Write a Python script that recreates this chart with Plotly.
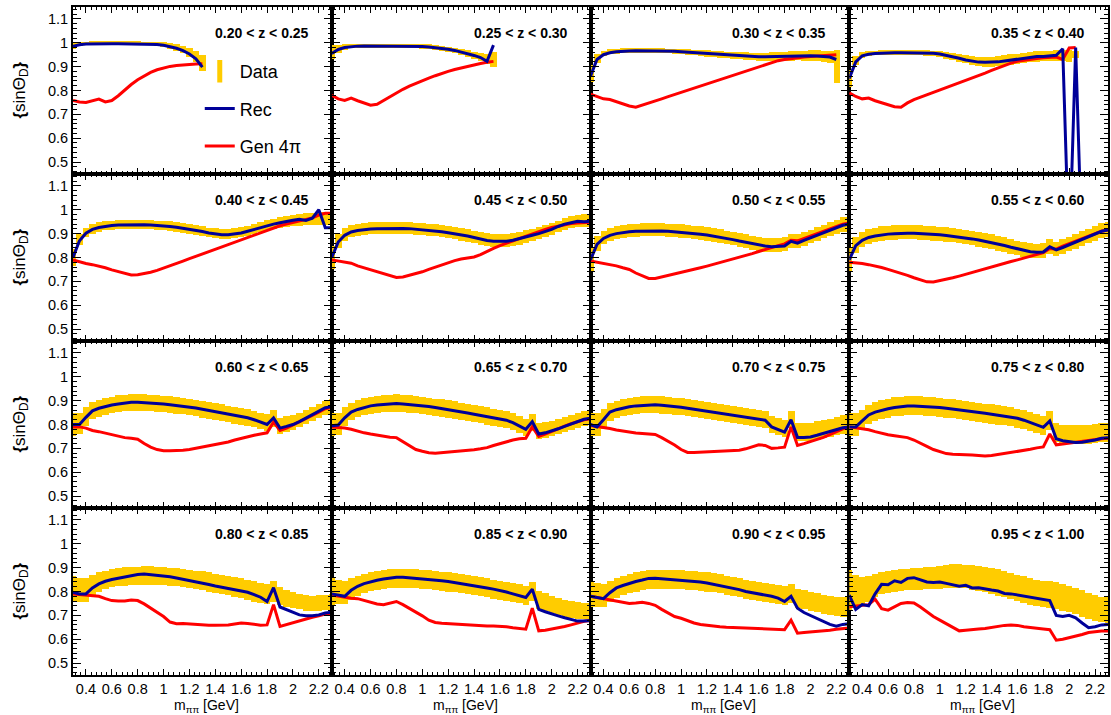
import plotly.graph_objects as go
from plotly.subplots import make_subplots

# Bin centres in m_pipi [GeV]
MASS = [0.30, 0.35, 0.40, 0.45, 0.50, 0.55, 0.60, 0.65, 0.70, 0.75,
        0.80, 0.85, 0.90, 0.95, 1.00, 1.05, 1.10, 1.15, 1.20, 1.25,
        1.30, 1.35, 1.40, 1.45, 1.50, 1.55, 1.60, 1.65, 1.70, 1.75,
        1.80, 1.85, 1.90, 1.95, 2.00, 2.05, 2.10, 2.15, 2.20, 2.25, 2.30]
BIN_WIDTH = 0.05

Z_LABELS = ["0.20 < z < 0.25", "0.25 < z < 0.30", "0.30 < z < 0.35", "0.35 < z < 0.40",
            "0.40 < z < 0.45", "0.45 < z < 0.50", "0.50 < z < 0.55", "0.55 < z < 0.60",
            "0.60 < z < 0.65", "0.65 < z < 0.70", "0.70 < z < 0.75", "0.75 < z < 0.80",
            "0.80 < z < 0.85", "0.85 < z < 0.90", "0.90 < z < 0.95", "0.95 < z < 1.00"]

X_TICKS = [0.4, 0.6, 0.8, 1.0, 1.2, 1.4, 1.6, 1.8, 2.0, 2.2]
X_TICK_TEXT = ["0.4", "0.6", "0.8", "1", "1.2", "1.4", "1.6", "1.8", "2", "2.2"]
Y_TICKS = [0.5, 0.6, 0.7, 0.8, 0.9, 1.0, 1.1]
Y_TICK_TEXT = ["0.5", "0.6", "0.7", "0.8", "0.9", "1", "1.1"]

# ---- 0.20 < z < 0.25 ----
data_z20 = [0.99, 0.995, 0.997, 0.998, 0.998, 0.998, 0.998, 0.998, 0.998, 0.998, 0.998, 0.997, 0.997, 0.996, 0.993, 0.988, 0.98, 0.972, 0.96, 0.943, 0.915]
err_z20 = [0.014, 0.01, 0.008, 0.008, 0.008, 0.008, 0.008, 0.008, 0.008, 0.008, 0.008, 0.008, 0.008, 0.009, 0.01, 0.012, 0.014, 0.016, 0.018, 0.022, 0.035]
rec_z20 = [0.985, 0.992, 0.995, 0.996, 0.996, 0.996, 0.996, 0.996, 0.996, 0.996, 0.996, 0.996, 0.995, 0.993, 0.99, 0.985, 0.977, 0.967, 0.953, 0.933, 0.898]
gen_z20 = [0.758, 0.752, 0.75, 0.756, 0.764, 0.752, 0.758, 0.778, 0.802, 0.825, 0.845, 0.862, 0.876, 0.887, 0.895, 0.901, 0.905, 0.908, 0.91, 0.911, 0.912]

# ---- 0.25 < z < 0.30 ----
data_z25 = [0.96, 0.975, 0.982, 0.986, 0.988, 0.988, 0.988, 0.988, 0.988, 0.988, 0.988, 0.988, 0.987, 0.986, 0.985, 0.983, 0.98, 0.977, 0.973, 0.968, 0.962, 0.955, 0.948, 0.94, 0.932, 0.93]
err_z25 = [0.03, 0.016, 0.011, 0.009, 0.008, 0.008, 0.008, 0.008, 0.008, 0.008, 0.008, 0.008, 0.008, 0.009, 0.009, 0.01, 0.01, 0.011, 0.011, 0.012, 0.013, 0.014, 0.015, 0.017, 0.02, 0.03]
rec_z25 = [0.955, 0.972, 0.98, 0.984, 0.986, 0.987, 0.987, 0.987, 0.987, 0.987, 0.987, 0.987, 0.986, 0.985, 0.984, 0.982, 0.98, 0.977, 0.973, 0.968, 0.962, 0.955, 0.947, 0.938, 0.922, 0.99]
gen_z25 = [0.78, 0.765, 0.758, 0.768, 0.757, 0.748, 0.738, 0.742, 0.758, 0.775, 0.79, 0.805, 0.818, 0.83, 0.842, 0.852, 0.862, 0.872, 0.88, 0.888, 0.895, 0.902, 0.908, 0.913, 0.918, 0.922]

# ---- 0.30 < z < 0.35 ----
data_z30 = [0.87, 0.935, 0.955, 0.962, 0.965, 0.967, 0.968, 0.968, 0.968, 0.968, 0.968, 0.967, 0.966, 0.965, 0.963, 0.961, 0.959, 0.957, 0.955, 0.953, 0.951, 0.949, 0.947, 0.945, 0.944, 0.943, 0.942, 0.942, 0.942, 0.943, 0.944, 0.945, 0.946, 0.946, 0.946, 0.945, 0.943, 0.94, 0.9]
err_z30 = [0.035, 0.02, 0.012, 0.01, 0.01, 0.01, 0.01, 0.01, 0.01, 0.01, 0.01, 0.01, 0.01, 0.01, 0.011, 0.011, 0.012, 0.012, 0.013, 0.013, 0.014, 0.014, 0.015, 0.015, 0.016, 0.016, 0.017, 0.017, 0.018, 0.018, 0.019, 0.02, 0.02, 0.021, 0.022, 0.023, 0.024, 0.026, 0.07]
rec_z30 = [0.86, 0.93, 0.95, 0.958, 0.962, 0.965, 0.966, 0.967, 0.967, 0.967, 0.967, 0.966, 0.965, 0.964, 0.962, 0.96, 0.958, 0.956, 0.954, 0.952, 0.95, 0.948, 0.946, 0.944, 0.943, 0.942, 0.941, 0.941, 0.942, 0.943, 0.944, 0.945, 0.945, 0.946, 0.946, 0.945, 0.943, 0.94, 0.93]
gen_z30 = [0.785, 0.775, 0.765, 0.762, 0.752, 0.745, 0.735, 0.73, 0.738, 0.747, 0.756, 0.765, 0.774, 0.783, 0.792, 0.802, 0.811, 0.82, 0.829, 0.838, 0.847, 0.856, 0.865, 0.874, 0.883, 0.892, 0.901, 0.91, 0.918, 0.925, 0.93, 0.934, 0.937, 0.94, 0.942, 0.944, 0.946, 0.948, 0.95]

# ---- 0.35 < z < 0.40 ----
data_z35 = [0.85, 0.925, 0.948, 0.955, 0.957, 0.958, 0.958, 0.958, 0.958, 0.958, 0.958, 0.958, 0.957, 0.955, 0.952, 0.948, 0.943, 0.937, 0.931, 0.926, 0.922, 0.92, 0.92, 0.922, 0.925, 0.929, 0.933, 0.937, 0.94, 0.942, 0.944, 0.945, 0.946, 0.947, 0.945, 0.95]
err_z35 = [0.035, 0.02, 0.012, 0.01, 0.01, 0.01, 0.01, 0.01, 0.01, 0.01, 0.01, 0.011, 0.011, 0.012, 0.013, 0.014, 0.015, 0.016, 0.017, 0.018, 0.019, 0.02, 0.021, 0.021, 0.022, 0.022, 0.022, 0.022, 0.022, 0.022, 0.022, 0.022, 0.022, 0.022, 0.025, 0.015]
rec_z35 = [0.85, 0.92, 0.945, 0.952, 0.955, 0.957, 0.958, 0.958, 0.958, 0.958, 0.958, 0.958, 0.957, 0.956, 0.953, 0.948, 0.942, 0.935, 0.928, 0.922, 0.919, 0.918, 0.918, 0.92, 0.924, 0.928, 0.933, 0.937, 0.94, 0.942, 0.943, 0.944, 0.948, 0.975, 0.1, 0.98, 0.1]
gen_z35 = [0.79, 0.775, 0.765, 0.768, 0.757, 0.748, 0.74, 0.732, 0.73, 0.748, 0.762, 0.772, 0.78, 0.79, 0.80, 0.81, 0.82, 0.831, 0.842, 0.852, 0.863, 0.873, 0.884, 0.895, 0.905, 0.915, 0.922, 0.927, 0.931, 0.934, 0.937, 0.939, 0.94, 0.93, 0.978, 0.98]

# ---- 0.40 < z < 0.45 ----
data_z40 = [0.8, 0.875, 0.905, 0.92, 0.928, 0.933, 0.936, 0.938, 0.939, 0.94, 0.94, 0.939, 0.938, 0.936, 0.934, 0.931, 0.928, 0.924, 0.92, 0.915, 0.91, 0.905, 0.901, 0.899, 0.899, 0.902, 0.907, 0.913, 0.92, 0.927, 0.934, 0.94, 0.946, 0.951, 0.955, 0.958, 0.96, 0.962, 0.963, 0.963, 0.962]
err_z40 = [0.035, 0.022, 0.02, 0.02, 0.019, 0.019, 0.019, 0.019, 0.019, 0.019, 0.019, 0.019, 0.019, 0.019, 0.02, 0.02, 0.02, 0.02, 0.02, 0.02, 0.02, 0.02, 0.021, 0.021, 0.021, 0.021, 0.021, 0.021, 0.021, 0.022, 0.022, 0.022, 0.022, 0.022, 0.024, 0.024, 0.025, 0.025, 0.026, 0.026, 0.026]
rec_z40 = [0.8, 0.87, 0.902, 0.918, 0.926, 0.931, 0.934, 0.936, 0.937, 0.938, 0.938, 0.937, 0.936, 0.935, 0.933, 0.93, 0.927, 0.923, 0.919, 0.914, 0.909, 0.903, 0.898, 0.895, 0.895, 0.898, 0.903, 0.91, 0.918, 0.926, 0.933, 0.94, 0.946, 0.952, 0.956, 0.96, 0.955, 0.965, 1.0, 0.925, 0.925]
gen_z40 = [0.79, 0.782, 0.775, 0.77, 0.765, 0.757, 0.748, 0.74, 0.733, 0.727, 0.728, 0.732, 0.738, 0.746, 0.755, 0.765, 0.775, 0.785, 0.795, 0.805, 0.815, 0.825, 0.835, 0.845, 0.855, 0.865, 0.875, 0.885, 0.895, 0.905, 0.915, 0.925, 0.933, 0.94, 0.947, 0.953, 0.958, 0.966, 0.978, 0.985, 0.985]

# ---- 0.45 < z < 0.50 ----
data_z45 = [0.8, 0.868, 0.896, 0.91, 0.916, 0.92, 0.922, 0.923, 0.924, 0.925, 0.925, 0.924, 0.923, 0.921, 0.919, 0.917, 0.914, 0.91, 0.906, 0.902, 0.897, 0.892, 0.886, 0.88, 0.874, 0.871, 0.87, 0.871, 0.875, 0.881, 0.888, 0.895, 0.902, 0.91, 0.92, 0.93, 0.94, 0.947, 0.953, 0.955, 0.955]
err_z45 = [0.05, 0.03, 0.026, 0.025, 0.025, 0.025, 0.025, 0.025, 0.025, 0.025, 0.025, 0.025, 0.025, 0.025, 0.025, 0.025, 0.025, 0.026, 0.026, 0.026, 0.026, 0.026, 0.027, 0.027, 0.027, 0.027, 0.027, 0.027, 0.027, 0.027, 0.026, 0.026, 0.026, 0.026, 0.025, 0.025, 0.025, 0.025, 0.025, 0.026, 0.026]
rec_z45 = [0.8, 0.865, 0.893, 0.907, 0.913, 0.917, 0.919, 0.921, 0.922, 0.923, 0.923, 0.922, 0.921, 0.919, 0.917, 0.915, 0.912, 0.908, 0.904, 0.9, 0.895, 0.89, 0.884, 0.877, 0.871, 0.868, 0.867, 0.868, 0.872, 0.878, 0.886, 0.893, 0.9, 0.908, 0.918, 0.93, 0.94, 0.946, 0.952, 0.95, 0.952]
gen_z45 = [0.79, 0.785, 0.778, 0.776, 0.765, 0.757, 0.748, 0.74, 0.732, 0.722, 0.716, 0.718, 0.725, 0.732, 0.74, 0.75, 0.76, 0.769, 0.778, 0.787, 0.794, 0.797, 0.802, 0.812, 0.826, 0.838, 0.85, 0.86, 0.871, 0.88, 0.89, 0.9, 0.909, 0.918, 0.926, 0.932, 0.938, 0.942, 0.945, 0.947, 0.948]

# ---- 0.50 < z < 0.55 ----
data_z50 = [0.795, 0.858, 0.885, 0.898, 0.905, 0.91, 0.913, 0.915, 0.916, 0.917, 0.917, 0.916, 0.915, 0.913, 0.911, 0.908, 0.905, 0.902, 0.899, 0.895, 0.89, 0.885, 0.88, 0.874, 0.868, 0.862, 0.857, 0.853, 0.851, 0.851, 0.855, 0.87, 0.868, 0.878, 0.888, 0.898, 0.909, 0.919, 0.929, 0.938, 0.943]
err_z50 = [0.05, 0.032, 0.028, 0.027, 0.027, 0.027, 0.027, 0.027, 0.027, 0.027, 0.027, 0.027, 0.027, 0.027, 0.028, 0.028, 0.028, 0.028, 0.028, 0.028, 0.028, 0.028, 0.029, 0.029, 0.029, 0.029, 0.029, 0.029, 0.029, 0.029, 0.029, 0.029, 0.029, 0.029, 0.029, 0.029, 0.029, 0.029, 0.029, 0.03, 0.03]
rec_z50 = [0.79, 0.855, 0.88, 0.893, 0.9, 0.905, 0.908, 0.91, 0.911, 0.912, 0.912, 0.911, 0.91, 0.908, 0.906, 0.903, 0.9, 0.897, 0.894, 0.89, 0.885, 0.88, 0.875, 0.869, 0.863, 0.857, 0.852, 0.848, 0.845, 0.845, 0.848, 0.868, 0.86, 0.872, 0.882, 0.893, 0.905, 0.915, 0.925, 0.935, 0.94]
gen_z50 = [0.785, 0.78, 0.775, 0.772, 0.765, 0.757, 0.75, 0.735, 0.722, 0.712, 0.712, 0.718, 0.724, 0.73, 0.737, 0.744, 0.75, 0.757, 0.764, 0.771, 0.778, 0.785, 0.792, 0.8, 0.808, 0.816, 0.825, 0.834, 0.842, 0.85, 0.857, 0.872, 0.87, 0.88, 0.89, 0.9, 0.91, 0.92, 0.93, 0.94, 0.945]

# ---- 0.55 < z < 0.60 ----
data_z55 = [0.795, 0.852, 0.876, 0.888, 0.895, 0.9, 0.903, 0.905, 0.906, 0.906, 0.906, 0.905, 0.903, 0.901, 0.899, 0.896, 0.893, 0.89, 0.886, 0.882, 0.877, 0.872, 0.866, 0.86, 0.854, 0.847, 0.84, 0.834, 0.829, 0.827, 0.828, 0.845, 0.836, 0.846, 0.857, 0.868, 0.879, 0.89, 0.902, 0.912, 0.918]
err_z55 = [0.05, 0.034, 0.03, 0.03, 0.03, 0.03, 0.03, 0.03, 0.03, 0.03, 0.03, 0.03, 0.03, 0.03, 0.03, 0.03, 0.03, 0.03, 0.03, 0.03, 0.031, 0.031, 0.031, 0.031, 0.031, 0.031, 0.031, 0.031, 0.031, 0.031, 0.031, 0.031, 0.031, 0.031, 0.031, 0.031, 0.031, 0.031, 0.031, 0.031, 0.031]
rec_z55 = [0.79, 0.85, 0.872, 0.884, 0.89, 0.895, 0.898, 0.9, 0.902, 0.902, 0.902, 0.901, 0.899, 0.897, 0.895, 0.892, 0.889, 0.886, 0.882, 0.878, 0.873, 0.868, 0.862, 0.856, 0.85, 0.843, 0.836, 0.829, 0.824, 0.822, 0.823, 0.845, 0.832, 0.842, 0.853, 0.864, 0.876, 0.888, 0.9, 0.91, 0.915]
gen_z55 = [0.78, 0.778, 0.775, 0.77, 0.765, 0.758, 0.75, 0.742, 0.735, 0.725, 0.715, 0.705, 0.698, 0.697, 0.702, 0.708, 0.715, 0.722, 0.73, 0.737, 0.745, 0.753, 0.76, 0.768, 0.776, 0.783, 0.79, 0.798, 0.806, 0.813, 0.82, 0.838, 0.835, 0.848, 0.858, 0.868, 0.878, 0.888, 0.898, 0.91, 0.915]

# ---- 0.60 < z < 0.65 ----
data_z60 = [0.8, 0.805, 0.835, 0.858, 0.868, 0.876, 0.882, 0.887, 0.89, 0.892, 0.893, 0.892, 0.89, 0.888, 0.886, 0.883, 0.88, 0.877, 0.873, 0.869, 0.864, 0.859, 0.854, 0.849, 0.844, 0.839, 0.835, 0.83, 0.823, 0.815, 0.807, 0.825, 0.795, 0.802, 0.81, 0.82, 0.832, 0.845, 0.858, 0.87, 0.876]
err_z60 = [0.05, 0.045, 0.04, 0.037, 0.036, 0.036, 0.035, 0.035, 0.035, 0.035, 0.035, 0.035, 0.035, 0.035, 0.035, 0.035, 0.035, 0.035, 0.035, 0.035, 0.035, 0.035, 0.035, 0.035, 0.035, 0.035, 0.035, 0.035, 0.035, 0.035, 0.035, 0.035, 0.033, 0.032, 0.031, 0.03, 0.03, 0.03, 0.03, 0.03, 0.03]
rec_z60 = [0.8, 0.8, 0.83, 0.857, 0.868, 0.876, 0.882, 0.886, 0.89, 0.893, 0.893, 0.892, 0.89, 0.888, 0.886, 0.883, 0.88, 0.877, 0.874, 0.869, 0.864, 0.859, 0.854, 0.848, 0.843, 0.838, 0.834, 0.828, 0.82, 0.81, 0.8, 0.828, 0.785, 0.792, 0.8, 0.812, 0.826, 0.84, 0.855, 0.87, 0.875]
gen_z60 = [0.79, 0.79, 0.785, 0.775, 0.77, 0.764, 0.757, 0.75, 0.745, 0.742, 0.738, 0.72, 0.705, 0.695, 0.69, 0.69, 0.69, 0.692, 0.695, 0.7, 0.705, 0.71, 0.715, 0.72, 0.727, 0.735, 0.742, 0.75, 0.755, 0.76, 0.765, 0.81, 0.775, 0.785, 0.798, 0.81, 0.823, 0.837, 0.852, 0.866, 0.872]

# ---- 0.65 < z < 0.70 ----
data_z65 = [0.8, 0.803, 0.832, 0.855, 0.866, 0.874, 0.88, 0.884, 0.887, 0.889, 0.89, 0.888, 0.886, 0.883, 0.88, 0.877, 0.873, 0.869, 0.865, 0.861, 0.856, 0.851, 0.846, 0.841, 0.836, 0.831, 0.826, 0.821, 0.812, 0.8, 0.788, 0.81, 0.772, 0.776, 0.782, 0.79, 0.799, 0.808, 0.817, 0.825, 0.83]
err_z65 = [0.05, 0.045, 0.04, 0.037, 0.036, 0.036, 0.036, 0.036, 0.036, 0.036, 0.036, 0.036, 0.036, 0.036, 0.036, 0.036, 0.036, 0.036, 0.036, 0.036, 0.036, 0.036, 0.036, 0.036, 0.036, 0.036, 0.036, 0.036, 0.036, 0.036, 0.036, 0.036, 0.034, 0.033, 0.032, 0.031, 0.031, 0.031, 0.031, 0.031, 0.031]
rec_z65 = [0.795, 0.798, 0.828, 0.852, 0.863, 0.872, 0.878, 0.882, 0.885, 0.887, 0.888, 0.886, 0.884, 0.881, 0.878, 0.875, 0.871, 0.867, 0.863, 0.858, 0.853, 0.848, 0.843, 0.838, 0.833, 0.828, 0.823, 0.818, 0.808, 0.795, 0.78, 0.812, 0.76, 0.765, 0.772, 0.782, 0.792, 0.802, 0.812, 0.822, 0.826]
gen_z65 = [0.79, 0.788, 0.785, 0.78, 0.772, 0.765, 0.76, 0.755, 0.75, 0.747, 0.745, 0.728, 0.71, 0.695, 0.688, 0.682, 0.68, 0.682, 0.685, 0.687, 0.689, 0.691, 0.694, 0.698, 0.703, 0.712, 0.72, 0.728, 0.735, 0.74, 0.742, 0.79, 0.75, 0.76, 0.772, 0.783, 0.793, 0.803, 0.812, 0.82, 0.824]

# ---- 0.70 < z < 0.75 ----
data_z70 = [0.8, 0.8, 0.825, 0.852, 0.864, 0.872, 0.877, 0.881, 0.883, 0.884, 0.884, 0.882, 0.88, 0.877, 0.874, 0.87, 0.866, 0.862, 0.858, 0.854, 0.85, 0.846, 0.842, 0.838, 0.834, 0.83, 0.826, 0.82, 0.8, 0.79, 0.783, 0.82, 0.767, 0.768, 0.77, 0.775, 0.781, 0.787, 0.793, 0.8, 0.803]
err_z70 = [0.05, 0.048, 0.042, 0.037, 0.036, 0.036, 0.036, 0.036, 0.036, 0.036, 0.036, 0.036, 0.036, 0.036, 0.036, 0.036, 0.036, 0.036, 0.036, 0.036, 0.036, 0.036, 0.036, 0.036, 0.036, 0.036, 0.036, 0.036, 0.036, 0.036, 0.036, 0.036, 0.038, 0.038, 0.038, 0.038, 0.038, 0.038, 0.038, 0.038, 0.038]
rec_z70 = [0.8, 0.79, 0.82, 0.852, 0.862, 0.869, 0.874, 0.878, 0.88, 0.882, 0.883, 0.881, 0.879, 0.876, 0.872, 0.868, 0.864, 0.86, 0.856, 0.852, 0.847, 0.843, 0.839, 0.835, 0.831, 0.827, 0.824, 0.818, 0.79, 0.778, 0.768, 0.82, 0.746, 0.746, 0.748, 0.755, 0.763, 0.77, 0.778, 0.786, 0.79]
gen_z70 = [0.796, 0.792, 0.79, 0.783, 0.777, 0.772, 0.768, 0.764, 0.762, 0.761, 0.758, 0.745, 0.73, 0.714, 0.695, 0.683, 0.683, 0.684, 0.685, 0.686, 0.687, 0.688, 0.689, 0.692, 0.698, 0.707, 0.715, 0.712, 0.7, 0.702, 0.705, 0.79, 0.712, 0.72, 0.728, 0.736, 0.746, 0.758, 0.77, 0.782, 0.787]

# ---- 0.75 < z < 0.80 ----
data_z75 = [0.8, 0.8, 0.82, 0.842, 0.855, 0.863, 0.869, 0.874, 0.877, 0.879, 0.879, 0.878, 0.876, 0.874, 0.872, 0.869, 0.866, 0.863, 0.859, 0.855, 0.851, 0.848, 0.844, 0.84, 0.836, 0.832, 0.827, 0.82, 0.812, 0.803, 0.795, 0.815, 0.765, 0.76, 0.758, 0.757, 0.758, 0.76, 0.763, 0.766, 0.768]
err_z75 = [0.05, 0.048, 0.042, 0.04, 0.04, 0.04, 0.04, 0.04, 0.04, 0.04, 0.04, 0.04, 0.04, 0.04, 0.04, 0.04, 0.04, 0.04, 0.04, 0.04, 0.04, 0.04, 0.04, 0.04, 0.04, 0.04, 0.04, 0.04, 0.04, 0.04, 0.04, 0.04, 0.04, 0.04, 0.04, 0.04, 0.04, 0.04, 0.04, 0.04, 0.04]
rec_z75 = [0.79, 0.79, 0.815, 0.84, 0.852, 0.86, 0.866, 0.871, 0.875, 0.878, 0.878, 0.877, 0.875, 0.873, 0.871, 0.868, 0.865, 0.862, 0.858, 0.854, 0.85, 0.847, 0.843, 0.839, 0.835, 0.831, 0.826, 0.818, 0.808, 0.797, 0.788, 0.815, 0.74, 0.732, 0.728, 0.725, 0.726, 0.73, 0.735, 0.742, 0.745]
gen_z75 = [0.79, 0.787, 0.783, 0.778, 0.77, 0.763, 0.757, 0.753, 0.75, 0.745, 0.735, 0.72, 0.708, 0.695, 0.685, 0.678, 0.675, 0.675, 0.674, 0.672, 0.67, 0.668, 0.67, 0.674, 0.678, 0.683, 0.686, 0.69, 0.696, 0.702, 0.706, 0.76, 0.715, 0.718, 0.722, 0.725, 0.728, 0.732, 0.736, 0.74, 0.742]

# ---- 0.80 < z < 0.85 ----
data_z80 = [0.81, 0.806, 0.805, 0.825, 0.84, 0.85, 0.856, 0.86, 0.863, 0.865, 0.866, 0.867, 0.867, 0.866, 0.864, 0.862, 0.86, 0.857, 0.853, 0.849, 0.845, 0.84, 0.835, 0.83, 0.825, 0.82, 0.815, 0.808, 0.8, 0.795, 0.79, 0.8, 0.78, 0.772, 0.765, 0.758, 0.752, 0.75, 0.752, 0.755, 0.756]
err_z80 = [0.055, 0.05, 0.05, 0.045, 0.04, 0.038, 0.037, 0.037, 0.038, 0.038, 0.038, 0.038, 0.038, 0.038, 0.038, 0.038, 0.038, 0.038, 0.039, 0.039, 0.04, 0.04, 0.04, 0.04, 0.04, 0.041, 0.041, 0.042, 0.042, 0.042, 0.042, 0.042, 0.038, 0.036, 0.034, 0.033, 0.032, 0.032, 0.032, 0.032, 0.032]
rec_z80 = [0.797, 0.79, 0.79, 0.815, 0.832, 0.843, 0.85, 0.856, 0.861, 0.867, 0.871, 0.873, 0.871, 0.869, 0.866, 0.862, 0.857, 0.852, 0.847, 0.841, 0.835, 0.829, 0.823, 0.818, 0.813, 0.808, 0.803, 0.797, 0.787, 0.776, 0.758, 0.816, 0.735, 0.725, 0.712, 0.702, 0.698, 0.698, 0.702, 0.71, 0.713]
gen_z80 = [0.79, 0.788, 0.786, 0.783, 0.78, 0.77, 0.762, 0.76, 0.76, 0.764, 0.762, 0.748, 0.73, 0.712, 0.695, 0.672, 0.665, 0.666, 0.664, 0.66, 0.659, 0.659, 0.659, 0.659, 0.66, 0.664, 0.668, 0.666, 0.662, 0.659, 0.66, 0.745, 0.654, 0.662, 0.67, 0.678, 0.685, 0.692, 0.698, 0.705, 0.708]

# ---- 0.85 < z < 0.90 ----
data_z85 = [0.8, 0.797, 0.795, 0.81, 0.825, 0.835, 0.842, 0.847, 0.851, 0.854, 0.856, 0.856, 0.855, 0.853, 0.851, 0.849, 0.846, 0.843, 0.84, 0.836, 0.832, 0.828, 0.824, 0.82, 0.815, 0.81, 0.805, 0.8, 0.795, 0.79, 0.785, 0.8, 0.765, 0.755, 0.745, 0.737, 0.73, 0.725, 0.72, 0.718, 0.718]
err_z85 = [0.055, 0.05, 0.048, 0.045, 0.042, 0.04, 0.04, 0.04, 0.04, 0.04, 0.04, 0.04, 0.04, 0.04, 0.04, 0.04, 0.04, 0.04, 0.04, 0.04, 0.04, 0.04, 0.04, 0.04, 0.04, 0.04, 0.04, 0.04, 0.04, 0.04, 0.04, 0.04, 0.038, 0.037, 0.036, 0.035, 0.035, 0.035, 0.035, 0.035, 0.035]
rec_z85 = [0.79, 0.785, 0.78, 0.805, 0.822, 0.833, 0.841, 0.847, 0.852, 0.857, 0.86, 0.86, 0.858, 0.856, 0.854, 0.851, 0.848, 0.845, 0.842, 0.838, 0.834, 0.829, 0.825, 0.82, 0.815, 0.81, 0.805, 0.798, 0.79, 0.782, 0.775, 0.81, 0.725, 0.715, 0.708, 0.698, 0.69, 0.682, 0.676, 0.676, 0.678]
gen_z85 = [0.785, 0.78, 0.775, 0.772, 0.77, 0.763, 0.755, 0.748, 0.745, 0.752, 0.758, 0.745, 0.73, 0.712, 0.698, 0.68, 0.67, 0.667, 0.665, 0.662, 0.66, 0.658, 0.656, 0.655, 0.655, 0.655, 0.654, 0.652, 0.648, 0.645, 0.642, 0.73, 0.635, 0.638, 0.642, 0.647, 0.653, 0.66, 0.668, 0.675, 0.678]

# ---- 0.90 < z < 0.95 ----
data_z90 = [0.79, 0.787, 0.785, 0.8, 0.815, 0.826, 0.834, 0.84, 0.845, 0.849, 0.851, 0.852, 0.852, 0.851, 0.85, 0.848, 0.846, 0.843, 0.84, 0.836, 0.832, 0.827, 0.822, 0.816, 0.81, 0.805, 0.8, 0.796, 0.792, 0.788, 0.785, 0.79, 0.772, 0.765, 0.758, 0.752, 0.746, 0.741, 0.737, 0.735, 0.735]
err_z90 = [0.055, 0.05, 0.048, 0.045, 0.042, 0.04, 0.04, 0.04, 0.04, 0.04, 0.04, 0.04, 0.04, 0.04, 0.04, 0.04, 0.04, 0.04, 0.04, 0.04, 0.04, 0.04, 0.04, 0.04, 0.04, 0.04, 0.04, 0.04, 0.04, 0.04, 0.04, 0.04, 0.04, 0.04, 0.04, 0.04, 0.04, 0.04, 0.04, 0.04, 0.04]
rec_z90 = [0.78, 0.775, 0.77, 0.795, 0.815, 0.825, 0.835, 0.842, 0.848, 0.855, 0.856, 0.854, 0.852, 0.85, 0.849, 0.847, 0.843, 0.84, 0.836, 0.831, 0.826, 0.82, 0.815, 0.808, 0.8, 0.795, 0.79, 0.786, 0.78, 0.772, 0.758, 0.78, 0.73, 0.712, 0.7, 0.688, 0.676, 0.662, 0.655, 0.662, 0.665]
gen_z90 = [0.78, 0.775, 0.77, 0.765, 0.76, 0.755, 0.75, 0.752, 0.755, 0.75, 0.742, 0.725, 0.71, 0.695, 0.688, 0.678, 0.668, 0.662, 0.658, 0.655, 0.652, 0.65, 0.649, 0.648, 0.647, 0.646, 0.645, 0.645, 0.643, 0.641, 0.64, 0.68, 0.625, 0.628, 0.63, 0.632, 0.635, 0.638, 0.642, 0.645, 0.647]

# ---- 0.95 < z < 1.00 ----
data_z95 = [0.805, 0.8, 0.8, 0.81, 0.825, 0.835, 0.84, 0.845, 0.848, 0.85, 0.852, 0.853, 0.855, 0.857, 0.86, 0.862, 0.864, 0.865, 0.863, 0.86, 0.855, 0.85, 0.845, 0.838, 0.83, 0.822, 0.815, 0.808, 0.8, 0.795, 0.79, 0.788, 0.782, 0.775, 0.768, 0.76, 0.75, 0.74, 0.73, 0.725, 0.722]
err_z95 = [0.085, 0.07, 0.06, 0.055, 0.05, 0.045, 0.045, 0.045, 0.045, 0.045, 0.045, 0.045, 0.046, 0.047, 0.048, 0.049, 0.05, 0.05, 0.05, 0.052, 0.053, 0.054, 0.055, 0.055, 0.055, 0.055, 0.055, 0.055, 0.055, 0.055, 0.056, 0.056, 0.056, 0.056, 0.056, 0.056, 0.055, 0.055, 0.054, 0.053, 0.053]
rec_z95 = [0.785, 0.725, 0.745, 0.74, 0.79, 0.83, 0.828, 0.845, 0.838, 0.855, 0.858, 0.85, 0.84, 0.838, 0.84, 0.834, 0.828, 0.822, 0.826, 0.815, 0.816, 0.81, 0.806, 0.802, 0.792, 0.79, 0.785, 0.78, 0.776, 0.77, 0.768, 0.762, 0.7, 0.695, 0.7, 0.69, 0.668, 0.648, 0.652, 0.66, 0.662]
gen_z95 = [0.736, 0.74, 0.742, 0.745, 0.768, 0.728, 0.722, 0.735, 0.75, 0.754, 0.752, 0.735, 0.715, 0.695, 0.68, 0.665, 0.648, 0.635, 0.638, 0.642, 0.643, 0.645, 0.65, 0.652, 0.658, 0.66, 0.658, 0.652, 0.65, 0.646, 0.643, 0.64, 0.596, 0.6, 0.606, 0.612, 0.62, 0.628, 0.632, 0.634, 0.634]

PANELS = [
    (Z_LABELS[0], data_z20, err_z20, rec_z20, gen_z20),
    (Z_LABELS[1], data_z25, err_z25, rec_z25, gen_z25),
    (Z_LABELS[2], data_z30, err_z30, rec_z30, gen_z30),
    (Z_LABELS[3], data_z35, err_z35, rec_z35, gen_z35),
    (Z_LABELS[4], data_z40, err_z40, rec_z40, gen_z40),
    (Z_LABELS[5], data_z45, err_z45, rec_z45, gen_z45),
    (Z_LABELS[6], data_z50, err_z50, rec_z50, gen_z50),
    (Z_LABELS[7], data_z55, err_z55, rec_z55, gen_z55),
    (Z_LABELS[8], data_z60, err_z60, rec_z60, gen_z60),
    (Z_LABELS[9], data_z65, err_z65, rec_z65, gen_z65),
    (Z_LABELS[10], data_z70, err_z70, rec_z70, gen_z70),
    (Z_LABELS[11], data_z75, err_z75, rec_z75, gen_z75),
    (Z_LABELS[12], data_z80, err_z80, rec_z80, gen_z80),
    (Z_LABELS[13], data_z85, err_z85, rec_z85, gen_z85),
    (Z_LABELS[14], data_z90, err_z90, rec_z90, gen_z90),
    (Z_LABELS[15], data_z95, err_z95, rec_z95, gen_z95),
]

GOLD = "#FFCC00"
NAVY = "#000099"
RED = "#FF0000"
FONT = "Liberation Sans, Arial, Helvetica, sans-serif"

W, H = 1111, 715
M_L, M_R, M_T, M_B = 73, 1, 7, 40
PANEL_W = (W - M_L - M_R) / 4
PANEL_H = (H - M_T - M_B) / 4

fig = make_subplots(rows=4, cols=4, horizontal_spacing=0, vertical_spacing=0)

for k, (label, val, err, rec, gen) in enumerate(PANELS):
    r, c = k // 4 + 1, k % 4 + 1
    first = k == 0
    # data: error boxes spanning value +- uncertainty
    bx = [m for m, v in zip(MASS, val) if v is not None]
    base = [v - e for v, e in zip(val, err) if v is not None]
    span = [2 * e for v, e in zip(val, err) if v is not None]
    fig.add_trace(go.Bar(x=bx, y=span, base=base, width=BIN_WIDTH,
                         marker=dict(color=GOLD, line=dict(width=0)),
                         showlegend=False, legendgroup="data", hoverinfo="skip"),
                  row=r, col=c)
    fig.add_trace(go.Scatter(x=MASS[:len(gen)], y=gen, mode="lines",
                             line=dict(color=RED, width=3),
                             name="Gen 4π", legendgroup="gen", legendrank=3,
                             showlegend=first),
                  row=r, col=c)
    fig.add_trace(go.Scatter(x=MASS[:len(rec)], y=rec, mode="lines",
                             line=dict(color=NAVY, width=3),
                             name="Rec", legendgroup="rec", legendrank=2,
                             showlegend=first),
                  row=r, col=c)
    if first:
        fig.add_trace(go.Scatter(x=[None], y=[None], mode="markers",
                                 marker=dict(symbol="line-ns", size=22,
                                             line=dict(width=5, color=GOLD)),
                                 name="Data", legendgroup="data", legendrank=1),
                      row=r, col=c)
    sfx = "" if k == 0 else str(k + 1)
    fig.add_annotation(text="<b>" + label.replace("<", "&lt;") + "</b>",
                       xref=f"x{sfx} domain", yref=f"y{sfx} domain",
                       x=1 - 21 / PANEL_W, y=1 - 26 / PANEL_H,
                       xanchor="right", yanchor="middle", showarrow=False,
                       font=dict(family=FONT, size=14, color="black"))
    if c == 1:
        fig.add_annotation(text="<b>{</b>sinΘ<sub>D</sub><b>}</b>",
                           xref=f"x{sfx} domain", yref=f"y{sfx} domain",
                           x=-53 / PANEL_W, y=0.5, textangle=-90,
                           xanchor="center", yanchor="middle", showarrow=False,
                           font=dict(family=FONT, size=17, color="black"))
    if r == 4:
        fig.add_annotation(text="m<sub>ππ</sub> [GeV]",
                           xref=f"x{sfx} domain", yref=f"y{sfx} domain",
                           x=0.5 + 4 / PANEL_W, y=-31 / PANEL_H,
                           xanchor="center", yanchor="middle", showarrow=False,
                           font=dict(family=FONT, size=14, color="black"))

fig.update_xaxes(range=[0.3, 2.3], tickmode="array", tickvals=X_TICKS, ticktext=X_TICK_TEXT,
                 ticks="inside", ticklen=6, tickwidth=1, tickcolor="black",
                 minor=dict(ticks="inside", ticklen=3, tickwidth=1, tickcolor="black",
                            tickmode="linear", tick0=0.4, dtick=0.04),
                 showline=True, linewidth=2, linecolor="black", mirror="allticks",
                 showgrid=False, zeroline=False, showticklabels=False,
                 tickfont=dict(family=FONT, size=14.5, color="black"))
fig.update_yaxes(range=[0.45, 1.15], tickmode="array", tickvals=Y_TICKS, ticktext=Y_TICK_TEXT,
                 ticks="inside", ticklen=8, tickwidth=1, tickcolor="black",
                 minor=dict(ticks="inside", ticklen=4, tickwidth=1, tickcolor="black",
                            tickmode="linear", tick0=0.5, dtick=0.02),
                 showline=True, linewidth=2, linecolor="black", mirror="allticks",
                 showgrid=False, zeroline=False, showticklabels=False,
                 tickfont=dict(family=FONT, size=14.5, color="black"))
for c in range(1, 5):
    fig.update_xaxes(showticklabels=True, row=4, col=c)
for r in range(1, 5):
    fig.update_yaxes(showticklabels=True, row=r, col=1)

fig.update_layout(
    width=W, height=H,
    margin=dict(l=M_L, r=M_R, t=M_T, b=M_B),
    paper_bgcolor="white", plot_bgcolor="white",
    barmode="overlay", bargap=0,
    font=dict(family=FONT, color="black"),
    legend=dict(x=(200 - M_L) / (W - M_L - M_R), y=(H - M_B - 53) / (H - M_T - M_B),
                xanchor="left", yanchor="top", bgcolor="rgba(0,0,0,0)",
                font=dict(family=FONT, size=18, color="black"),
                tracegroupgap=11, itemwidth=30),
    showlegend=True,
)

fig.write_html("out.html")
